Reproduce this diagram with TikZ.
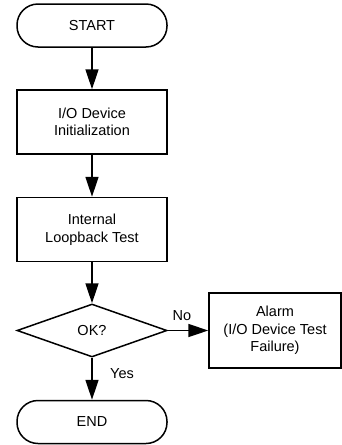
\documentclass[tikz,border=0pt]{standalone}
\usepackage{fontspec}
\setmainfont{Liberation Sans}
\usetikzlibrary{shapes.geometric,arrows.meta}
\begin{document}
\begin{tikzpicture}[x=1pt,y=-1pt,
  base/.style={draw=black,line width=1.5pt,align=center,inner sep=0pt,font=\fontsize{14.5}{17.5}\selectfont},
  term/.style={base,minimum width=150pt,minimum height=43pt,rounded corners=21pt},
  proc/.style={base,rectangle,minimum width=150pt,minimum height=64pt},
  dec/.style={base,diamond,minimum width=150pt,minimum height=53pt,aspect=2.83},
  arr/.style={line width=1.5pt,-{Triangle[length=20pt,width=13pt]}},
  lbl/.style={font=\fontsize{14.5}{17.5}\selectfont}]
\useasboundingbox (0,0) rectangle (342,445);
\node[term] (start) at (92,25.5) {START};
\node[proc] (init) at (92,122) {I/O Device\\Initialization};
\node[proc] (loop) at (92,229.5) {Internal\\Loopback Test};
\node[dec] (ok) at (92,330.5) {};
\node[lbl] (oktext) at (92,330.5) {OK?};
\node[base,minimum width=132pt,minimum height=75pt] (alarm) at (275,330.5) {Alarm\\(I/O Device Test\\Failure)};
\node[term] (end) at (92,422) {END};
\draw[arr] (start) -- (init);
\draw[arr] (init) -- (loop);
\draw[arr] (loop) -- (ok.north);
\draw[arr] (ok.east) -- (alarm.west);
\draw[arr] (ok.south) -- (end);
\node[lbl] (no) at (182,316) {No};
\node[lbl] (yes) at (122,374) {Yes};
\end{tikzpicture}
\end{document}
